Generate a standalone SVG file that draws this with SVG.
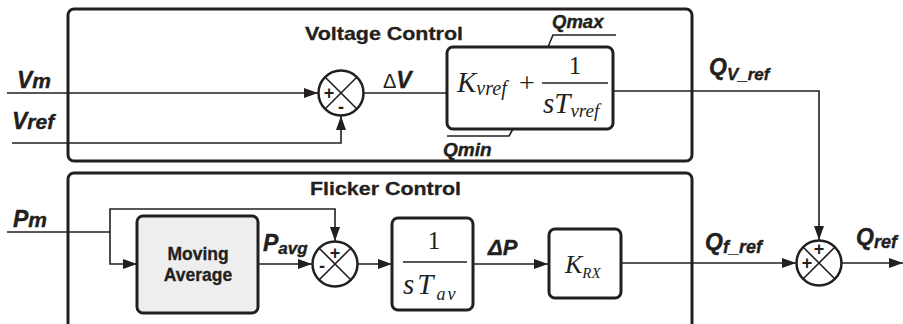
<svg xmlns="http://www.w3.org/2000/svg" width="903" height="324" viewBox="0 0 903 324">
<defs>
<marker id="arr" markerUnits="userSpaceOnUse" markerWidth="15" markerHeight="11" refX="14" refY="5" orient="auto">
<path d="M0,0 L14,5 L0,10 z" fill="#231f20"/>
</marker>
<style>
.frame{fill:none;stroke:#231f20;stroke-width:3}
.blk{fill:#fff;stroke:#231f20;stroke-width:3}
.ma{fill:#eeeeee;stroke:#231f20;stroke-width:3}
.sum{fill:#fff;stroke:#231f20;stroke-width:2.5}
.ln{fill:none;stroke:#231f20;stroke-width:1.6}
.arw{fill:none;stroke:#231f20;stroke-width:1.6;marker-end:url(#arr)}
.lbl{font-family:"Liberation Sans",Arial,sans-serif;font-weight:bold;font-style:italic;fill:#231f20;stroke:#231f20;stroke-width:0.4}
.ttl{font-family:"Liberation Sans",Arial,sans-serif;font-weight:bold;fill:#231f20;stroke:#231f20;stroke-width:0.3}
.sg{font-family:"Liberation Sans",Arial,sans-serif;font-weight:bold;font-size:18px;fill:#231f20;text-anchor:middle}
.mth{font-family:"Liberation Serif","Times New Roman",serif;font-style:italic;fill:#231f20}
.mthr{font-family:"Liberation Serif","Times New Roman",serif;fill:#231f20}
</style>
</defs>
<rect id="bg" x="0" y="0" width="903" height="324" fill="#fff"/>

<g id="voltage-control">
<rect class="frame" x="68" y="9" width="624" height="152" rx="6"/>
<text class="ttl" x="305" y="40" font-size="19" textLength="158" lengthAdjust="spacingAndGlyphs">Voltage Control</text>
</g>
<g id="flicker-control">
<rect class="frame" x="68" y="173" width="624" height="170" rx="6"/>
<text class="ttl" x="310" y="195" font-size="19" textLength="151" lengthAdjust="spacingAndGlyphs">Flicker Control</text>
</g>

<g id="connectors">
<polyline class="arw" points="7,93 318,93"/>
<polyline class="arw" points="12,143 341,143 341,116"/>
<polyline class="ln" points="363,93 447,93"/>
<polyline class="arw" points="613,91 819,91 819,240"/>
<polyline class="ln" points="7,232 110,232"/>
<polyline class="arw" points="110,232 110,209 335,209 335,241"/>
<polyline class="arw" points="110,232 110,264 137,264"/>
<polyline class="arw" points="258,264 312,264"/>
<polyline class="arw" points="358,264 392,264"/>
<polyline class="arw" points="473,264 548,264"/>
<polyline class="arw" points="621,263 796,263"/>
<polyline class="arw" points="842,263 903,263"/>
<polyline class="ln" points="616,35 553,35 548,47"/>
<polyline class="ln" points="447,136 509,136 513,129"/>
</g>

<g id="labels">
<text class="lbl" x="17" y="88" font-size="23">V<tspan font-size="21">m</tspan></text>
<text class="lbl" x="12" y="129" font-size="23">V<tspan font-size="21">ref</tspan></text>
<text class="lbl" x="13" y="227" font-size="23">P<tspan font-size="21">m</tspan></text>
<text x="383" y="88" font-family="Liberation Sans,Arial,sans-serif" font-size="20" fill="#231f20">Δ<tspan class="lbl" font-size="23">V</tspan></text>
<text class="lbl" x="552" y="28" font-size="18.5">Qmax</text>
<text class="lbl" x="443" y="156" font-size="19">Qmin</text>
<text class="lbl" x="709" y="75" font-size="23">Q<tspan font-size="17" dy="5">V_ref</tspan></text>
<text class="lbl" x="263" y="251" font-size="23">P<tspan font-size="17" dy="3">avg</tspan></text>
<text class="lbl" x="488" y="255" font-size="22">ΔP</text>
<text class="lbl" x="705" y="250" font-size="23">Q<tspan font-size="18" dy="3">f_ref</tspan></text>
<text class="lbl" x="856" y="245" font-size="23">Q<tspan font-size="18" dy="3">ref</tspan></text>
</g>

<g id="sum-v">
<circle class="sum" cx="341" cy="93" r="22.5"/>
<path class="ln" d="M325,77 L357,109 M357,77 L325,109" stroke-width="2.5"/>
<text class="sg" x="329" y="99">+</text>
<text class="sg" x="341" y="113">-</text>
</g>

<g id="pi-block">
<rect class="blk" x="447" y="47" width="166" height="82" rx="6"/>
<text class="mth" x="457" y="92" font-size="29">K<tspan font-size="20" dy="3">vref</tspan></text>
<text class="mthr" x="519" y="92" font-size="28">+</text>
<line class="ln" x1="542" y1="83" x2="608" y2="83" stroke-width="1.4"/>
<text class="mthr" x="575" y="74" font-size="25" text-anchor="middle">1</text>
<text class="mth" x="543" y="113" font-size="29">sT<tspan font-size="19" dy="4">vref</tspan></text>
</g>

<g id="moving-average">
<rect class="ma" x="137" y="216" width="121" height="97" rx="6"/>
<text class="ttl" x="198" y="260" font-size="17.5" text-anchor="middle">Moving</text>
<text class="ttl" x="198" y="281" font-size="17.5" text-anchor="middle">Average</text>
</g>

<g id="sum-p">
<circle class="sum" cx="335" cy="264" r="22.5"/>
<path class="ln" d="M319,248 L351,280 M351,248 L319,280" stroke-width="2.5"/>
<text class="sg" x="335" y="259">+</text>
<text class="sg" x="322" y="272">-</text>
</g>

<g id="integrator">
<rect class="blk" x="392" y="218" width="81" height="92" rx="6"/>
<text class="mthr" x="434" y="249" font-size="25" text-anchor="middle">1</text>
<line class="ln" x1="403" y1="262" x2="467" y2="262" stroke-width="1.4"/>
<text class="mth" x="403" y="294" font-size="29" letter-spacing="3">sT<tspan font-size="18" dy="6" letter-spacing="2">av</tspan></text>
</g>

<g id="krx">
<rect class="blk" x="549" y="229" width="72" height="69" rx="6"/>
<text class="mth" x="565" y="273" font-size="26">K<tspan font-size="15" dy="5">RX</tspan></text>
</g>

<g id="sum-q">
<circle class="sum" cx="819" cy="263" r="22.5"/>
<path class="ln" d="M803,247 L835,279 M835,247 L803,279" stroke-width="2.5"/>
<text class="sg" x="819" y="255">+</text>
<text class="sg" x="807" y="269">+</text>
</g>
</svg>
